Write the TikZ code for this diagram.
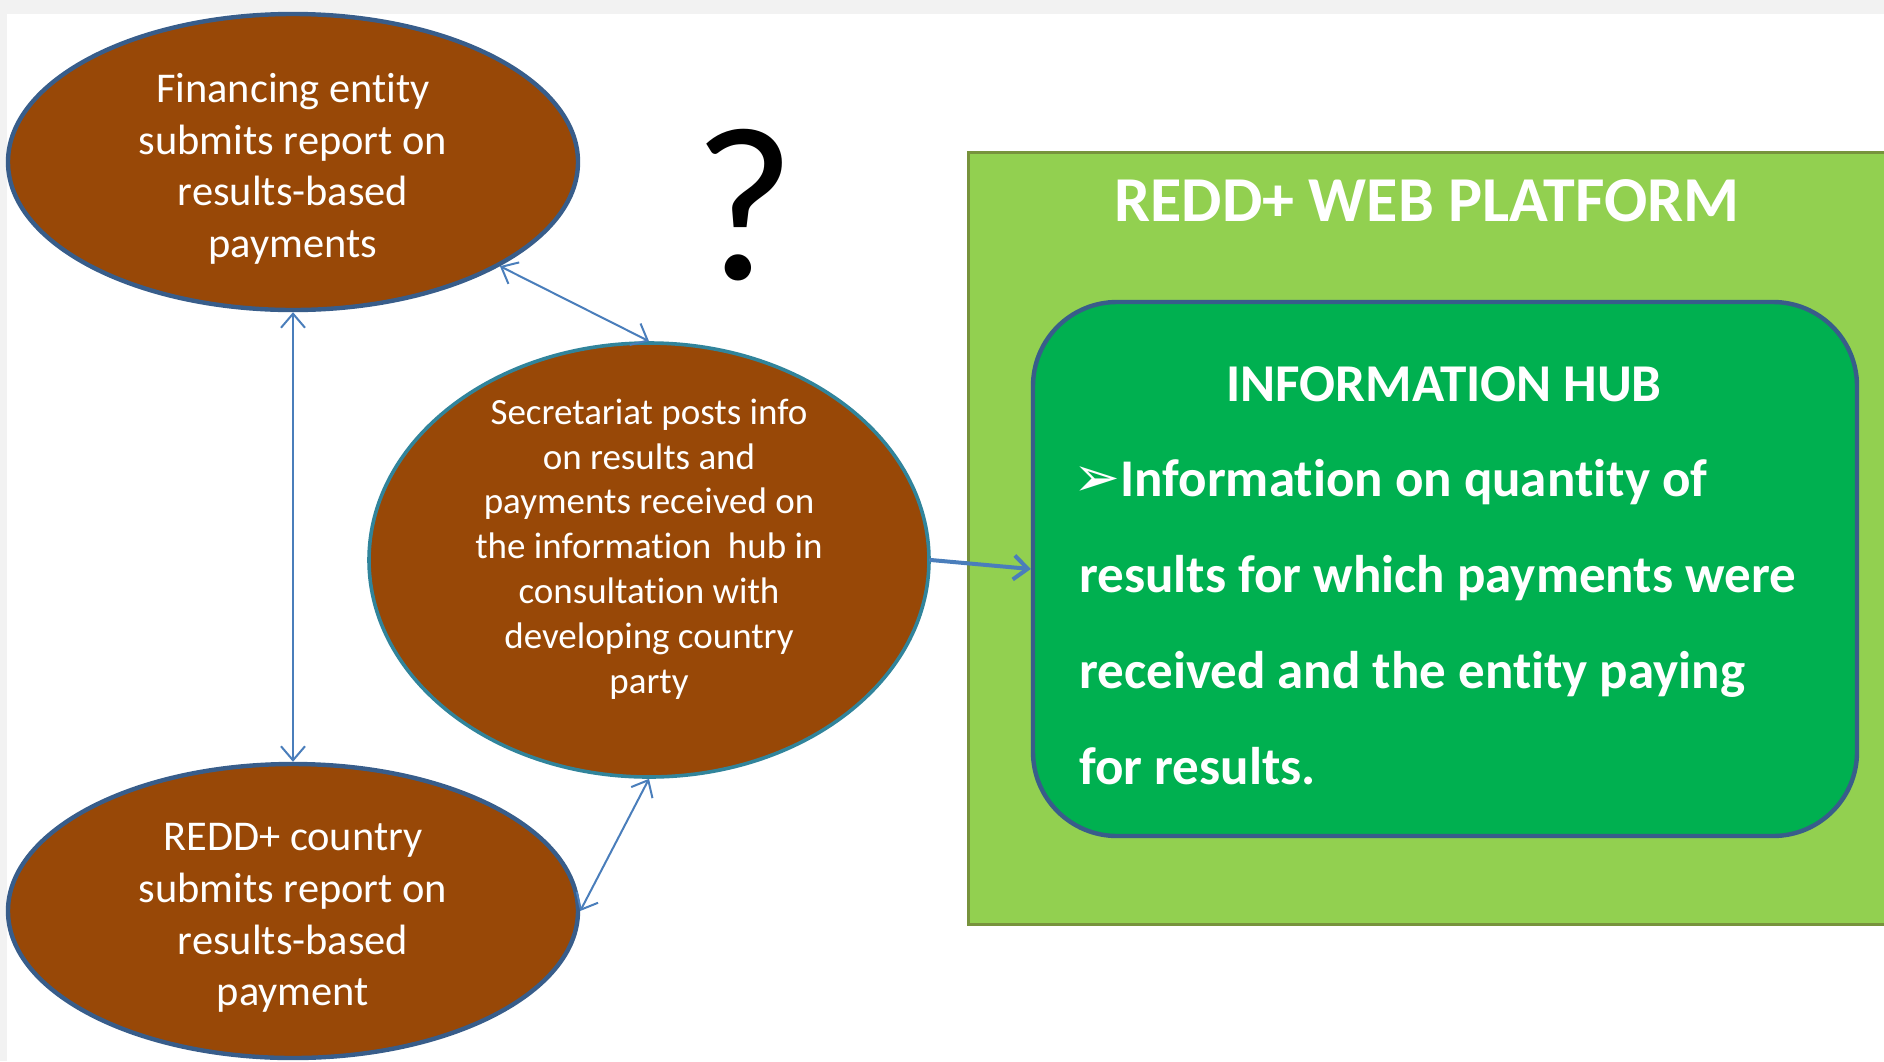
\documentclass[tikz,border=0pt]{standalone}
\usepackage{fontspec}
\setmainfont{Carlito}[Ligatures=NoCommon]
\newfontfamily\dingfont{DejaVu Sans}
\usetikzlibrary{shapes.geometric,arrows.meta}

\definecolor{rustbrown}{HTML}{984807}
\definecolor{edgeblue}{HTML}{385D8A}
\definecolor{edgeteal}{HTML}{31849B}
\definecolor{arrowblue}{HTML}{4A7EBB}
\definecolor{limegreen}{HTML}{92D050}
\definecolor{olivegreen}{HTML}{77933C}
\definecolor{hubgreen}{HTML}{00B050}
\definecolor{paper}{HTML}{F2F2F2}

\tikzset{
  bubble/.style={ellipse,fill=rustbrown,draw=edgeblue,line width=2.2pt,text=white,align=center,inner sep=0pt},
  link/.style={draw=arrowblue,line width=1pt,>={Straight Barb[length=7pt,width=12pt]}},
  bigtext/.style={font=\fontsize{21.2}{25.8}\selectfont},
  smalltext/.style={font=\fontsize{18.5}{22.4}\selectfont}
}

\begin{document}
\begin{tikzpicture}[x=0.5pt,y=-0.5pt]
\useasboundingbox (0,0) rectangle (1884,1061);
\clip (0,0) rectangle (1884,1061);
\fill[paper] (0,0) rectangle (1884,14);
\fill[paper] (0,0) rectangle (7,1061);

% web platform
\node[fill=limegreen,draw=olivegreen,line width=1.5pt,minimum width=470pt,minimum height=386pt,anchor=north west] (web) at (967,151) {};
\node[text=white,font=\bfseries\fontsize{32}{38}\selectfont] (webtitle) at (1427,201) {REDD+ WEB PLATFORM};
\node[fill=hubgreen,draw=edgeblue,line width=2.2pt,rounded corners=42pt,minimum width=412pt,minimum height=267pt] (hub) at (1445,569) {};
\node[text=white,font=\bfseries\fontsize{26.6}{31}\selectfont] (hubtitle) at (1444,384) {INFORMATION HUB};
\node[text=white,font=\bfseries\fontsize{26.5}{48}\selectfont,align=left,anchor=north west,inner sep=0pt] (hubtext) at (1079,459)
  {\kern-3pt{\dingfont\mdseries\fontsize{28}{28}\selectfont ➢}Information on quantity of\\
   results for which payments were\\
   received and the entity paying\\
   for results.};

% ellipses
\node[bubble,minimum width=285pt,minimum height=148pt] (fin) at (293,162) {};
\node[bigtext,text=white,align=center] (fintext) at ([yshift=-3.5pt]fin.center)
  {Financing entity\\ submits report on\\ results-based\\ payments};
\node[bubble,minimum width=285pt,minimum height=147pt] (rep) at (293,911) {};
\node[bigtext,text=white,align=center] (reptext) at ([yshift=-3.5pt]rep.center)
  {REDD+ country\\ submits report on\\ results-based\\ payment};
\node[bubble,draw=edgeteal,line width=1.8pt,minimum width=280pt,minimum height=217pt] (sec) at (649,560) {};
\node[smalltext,text=white,align=center] (sectext) at ([yshift=5.5pt]sec.center)
  {Secretariat posts info\\ on results and\\ payments received on\\ the information\ \ hub in\\ consultation with\\ developing country\\ party};

\node[font=\fontsize{110}{120}\selectfont] (qmark) at (744,205) {?};

% connectors
\draw[link,<->] (fin) -- (rep);
\draw[link,<->] (fin) -- (sec.north);
\draw[link,<->] (sec.south) -- (rep.east);
\draw[link,->,line width=2pt,line cap=round] (sec.east) -- (hub.west);
\end{tikzpicture}
\end{document}
